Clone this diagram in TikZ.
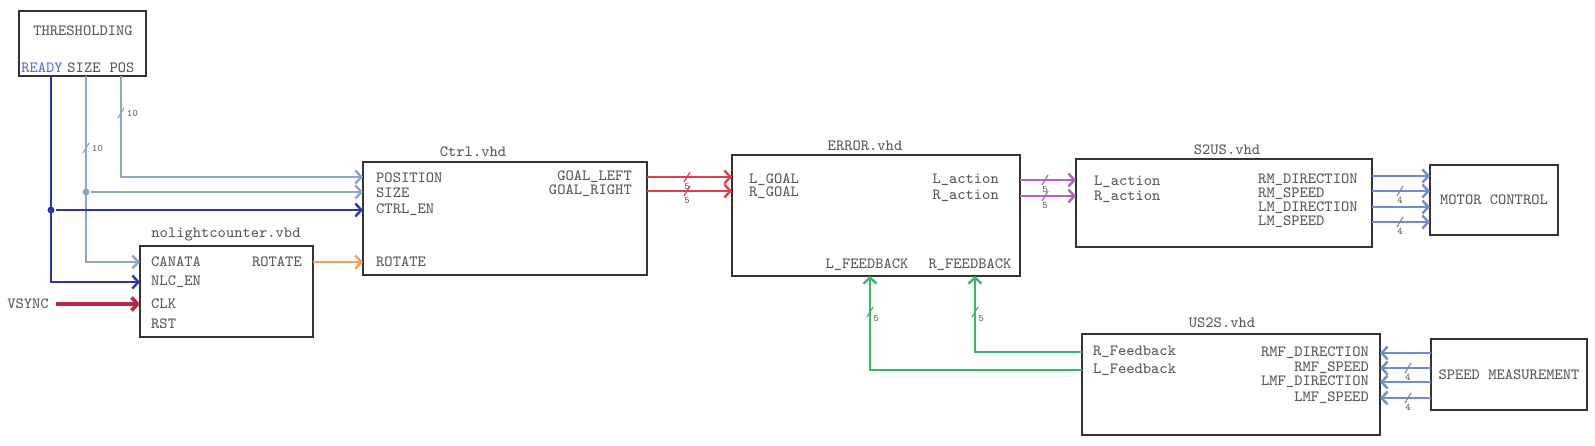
\documentclass[tikz,border=0pt]{standalone}
\usepackage{fontspec}
\usetikzlibrary{arrows.meta}
\usetikzlibrary{positioning}
\definecolor{rdy}{RGB}{50,50,170}
\definecolor{rdytxt}{RGB}{100,110,210}
\definecolor{szc}{RGB}{140,165,200}
\definecolor{vsy}{RGB}{190,40,70}
\definecolor{rot}{RGB}{245,160,80}
\definecolor{goal}{RGB}{230,60,80}
\definecolor{act}{RGB}{180,100,190}
\definecolor{mtr}{RGB}{115,140,200}
\definecolor{fbk}{RGB}{60,180,110}
\newcommand{\px}{0.5pt}
\newcommand{\pinfont}{\ttfamily\fontsize{7.8}{8}\selectfont}
\newcommand{\busfont}{\ttfamily\fontsize{5}{5}\selectfont}
\tikzstyle{schematic}=[x=0.5pt, y=-0.5pt, font=\pinfont, line width=1.2pt, >={Straight Barb[length=3pt,width=6.5pt]}]
\tikzstyle{blk}=[draw=black!80, line width=1.4pt, fill=white, inner sep=0pt, outer sep=0pt, anchor=north west, text=black!65]
\tikzstyle{ttl}=[text=black!65, inner sep=0pt]
\tikzstyle{pw}=[text=black!65, inner sep=0pt, anchor=west]
\tikzstyle{pe}=[text=black!65, inner sep=0pt, anchor=east]
\tikzstyle{pc}=[text=black!65, inner sep=0pt]
\tikzstyle{sig}=[->]
\tikzstyle{jdot}=[circle, fill, inner sep=0pt, minimum size=3.5pt]
\tikzstyle{busno}=[font=\busfont, inner sep=0.5pt, text=black!65]
% colour, x, y, width label, label place
\newcommand{\busmark}[5]{%
  \draw[#1, line width=0.6pt] (#2-3,#3+5) -- (#2+3,#3-5);
  \node[busno, #5] at (#2,#3) {#4};}

\begin{document}
\begin{tikzpicture}[schematic]
	\useasboundingbox (0,0) rectangle (1595,445);
	%% blocks
	\draw (19,11) node[blk, minimum width=127*\px, minimum height=65*\px] (thr) {};
	\draw (83,31) node[ttl] {THRESHOLDING};
	\draw (42,68) node[pc, text=rdytxt] (thr-ready) {READY};
	\draw (84,68) node[pc] (thr-size) {SIZE};
	\draw (122,68) node[pc] (thr-pos) {POS};
	%%
	\draw (140,246) node[blk, minimum width=173*\px, minimum height=91*\px] (cnt) {};
	\draw (226,235) node[ttl] {nolightcounter.vbd};
	\draw (150,262) node[pw] (cnt-canata) {CANATA};
	\draw (150,282) node[pw] (cnt-nlc) {NLC\_EN};
	\draw (150,304) node[pw] (cnt-clk) {CLK};
	\draw (150,324) node[pw] (cnt-rst) {RST};
	\draw (303,262) node[pe] (cnt-rotate) {ROTATE};
	%%
	\draw (363,162) node[blk, minimum width=284*\px, minimum height=113*\px] (ctrl) {};
	\draw (473,152) node[ttl] {Ctrl.vhd};
	\draw (375,178) node[pw] (ctrl-position) {POSITION};
	\draw (375,193) node[pw] (ctrl-size) {SIZE};
	\draw (375,210) node[pw] (ctrl-en) {CTRL\_EN};
	\draw (375,262) node[pw] (ctrl-rotate) {ROTATE};
	\draw (633,177) node[pe] (ctrl-gl) {GOAL\_LEFT};
	\draw (633,191) node[pe] (ctrl-gr) {GOAL\_RIGHT};
	%%
	\draw (732,155) node[blk, minimum width=288*\px, minimum height=121*\px] (err) {};
	\draw (865,146) node[ttl] {ERROR.vhd};
	\draw (748,180) node[pw] (err-lg) {L\_GOAL};
	\draw (748,193) node[pw] (err-rg) {R\_GOAL};
	\draw (1000,180) node[pe] (err-la) {L\_action};
	\draw (1000,196) node[pe] (err-ra) {R\_action};
	\draw (867,265) node[pc] (err-lf) {L\_FEEDBACK};
	\draw (970,265) node[pc] (err-rf) {R\_FEEDBACK};
	%%
	\draw (1076,159) node[blk, minimum width=296*\px, minimum height=88*\px] (drv) {};
	\draw (1227,150) node[ttl] {S2US.vhd};
	\draw (1093,182) node[pw] (drv-la) {L\_action};
	\draw (1093,197) node[pw] (drv-ra) {R\_action};
	\draw (1257,180) node[pw] (drv-rmd) {RM\_DIRECTION};
	\draw (1257,194) node[pw] (drv-rms) {RM\_SPEED};
	\draw (1257,208) node[pw] (drv-lmd) {LM\_DIRECTION};
	\draw (1257,222) node[pw] (drv-lms) {LM\_SPEED};
	%%
	\draw (1430,165) node[blk, minimum width=128*\px, minimum height=70*\px] (mc) {MOTOR CONTROL};
	%%
	\draw (1082,334) node[blk, minimum width=298*\px, minimum height=101*\px] (fb) {};
	\draw (1222,323) node[ttl] {US2S.vhd};
	\draw (1092,352) node[pw] (fb-r) {R\_Feedback};
	\draw (1092,370) node[pw] (fb-l) {L\_Feedback};
	\draw (1370,353) node[pe] (fb-rmd) {RMF\_DIRECTION};
	\draw (1370,368) node[pe] (fb-rms) {RMF\_SPEED};
	\draw (1370,382) node[pe] (fb-lmd) {LMF\_DIRECTION};
	\draw (1370,398) node[pe] (fb-lms) {LMF\_SPEED};
	%%
	\draw (1431,339) node[blk, minimum width=156*\px, minimum height=71*\px] (sm) {SPEED MEASUREMENT};
	%%%%%% threshold outputs
	\coordinate (ready-o) at (51,76);
	\coordinate (size-o) at (86,76);
	\coordinate (pos-o) at (121,76);
	\draw[sig, szc] (pos-o) |- (ctrl.west |- 0,177);
	\busmark{szc}{121}{113}{10}{right=2pt}
	\draw[sig, szc] (size-o) |- (cnt.west |- cnt-canata);
	\draw[szc] (86,192) node[jdot] (size-j) {};
	\draw[sig, szc] (size-j) -- (ctrl.west |- size-j);
	\busmark{szc}{86}{148}{10}{right=2pt}
	\draw[sig, rdy] (ready-o) |- (cnt.west |- cnt-nlc);
	\draw[rdy] (51,210) node[jdot] (ready-j) {};
	\draw[sig, rdy] (ready-j) -- (ctrl.west |- ready-j);
	%%
	\draw (28,304) node[pc] (vsync) {VSYNC};
	\draw[sig, vsy, line width=1.8pt] (vsync.east) ++(3pt,0) -- (cnt.west |- cnt-clk);
	\draw[sig, rot] (cnt.east |- cnt-rotate) -- (ctrl.west |- cnt-rotate);
	%%%%%% goals and actions
	\draw[sig, goal] (ctrl.east |- ctrl-gl) -- (err.west |- ctrl-gl);
	\draw[sig, goal] (ctrl.east |- ctrl-gr) -- (err.west |- ctrl-gr);
	\busmark{goal}{687}{177}{5}{below=2pt}
	\busmark{goal}{687}{191}{5}{below=2pt}
	\draw[sig, act] (err.east |- err-la) -- (drv.west |- err-la);
	\draw[sig, act] (err.east |- err-ra) -- (drv.west |- err-ra);
	\busmark{act}{1045}{180}{5}{below=2pt}
	\busmark{act}{1045}{196}{5}{below=2pt}
	%%%%%% motor control
	\draw[sig, mtr] (drv.east |- 0,176) -- (mc.west |- 0,176);
	\draw[sig, mtr] (drv.east |- 0,191) -- (mc.west |- 0,191);
	\draw[sig, mtr] (drv.east |- 0,207) -- (mc.west |- 0,207);
	\draw[sig, mtr] (drv.east |- 0,222) -- (mc.west |- 0,222);
	\busmark{mtr}{1400}{191}{4}{below=2pt}
	\busmark{mtr}{1400}{222}{4}{below=2pt}
	%%%%%% speed measurement
	\draw[sig, mtr] (sm.west |- fb-rmd) -- (fb.east |- fb-rmd);
	\draw[sig, mtr] (sm.west |- fb-rms) -- (fb.east |- fb-rms);
	\draw[sig, mtr] (sm.west |- fb-lmd) -- (fb.east |- fb-lmd);
	\draw[sig, mtr] (sm.west |- fb-lms) -- (fb.east |- fb-lms);
	\busmark{mtr}{1408}{368}{4}{below=2pt}
	\busmark{mtr}{1408}{398}{4}{below=2pt}
	%%%%%% feedback
	\draw[sig, fbk] (fb.west |- fb-r) -| (err.south -| 975,0);
	\draw[sig, fbk] (fb.west |- fb-l) -| (err.south -| 870,0);
	\busmark{fbk}{975}{312}{5}{below right=1pt}
	\busmark{fbk}{870}{312}{5}{below right=1pt}
\end{tikzpicture}
\end{document}
